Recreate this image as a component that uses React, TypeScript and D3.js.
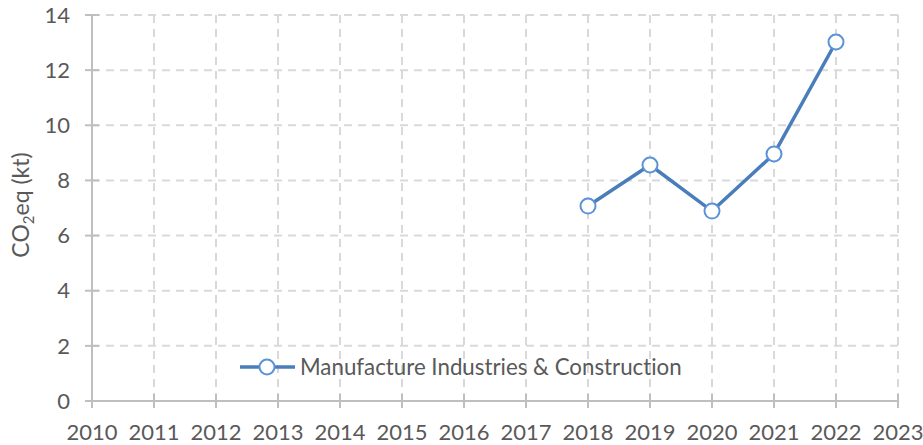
import React from "react";
import * as d3 from "d3";

const years = [2018, 2019, 2020, 2021, 2022];
const values = [7.07, 8.56, 6.89, 8.96, 13.02];
const xTicks = d3.range(2010, 2024);
const yTicks = [0, 2, 4, 6, 8, 10, 12, 14];
const seriesName = "Manufacture Industries & Construction";

export default function App() {
  const W = 923, H = 445;
  const x = d3.scaleLinear().domain([2010, 2023]).range([92, 898]);
  const y = d3.scaleLinear().domain([0, 14]).range([401, 15]);
  const line = d3.line<number>().x((d, i) => x(years[i])).y((d) => y(d));
  const font = "Lato, 'Open Sans', sans-serif";
  const grid = "#d9d9d9";
  const axis = "#bfbfbf";
  const txt = "#595959";
  const lineC = "#4a7ebb";
  const markC = "#5b93d6";
  return (
    <svg width={W} height={H} style={{ position: "absolute", left: 0, top: 0, fontVariantLigatures: "none" }}>
      <rect width={W} height={H} fill="#fff" />
      {yTicks.filter((t) => t > 0).map((t) => (
        <line key={"hy" + t} x1={x(2010)} x2={x(2023)} y1={y(t)} y2={y(t)} stroke={grid} strokeWidth={2} strokeDasharray="8,6" />
      ))}
      {xTicks.filter((t) => t > 2010).map((t) => (
        <line key={"vx" + t} x1={x(t)} x2={x(t)} y1={y(0)} y2={y(14)} stroke={grid} strokeWidth={2} strokeDasharray="8,6" />
      ))}
      <line x1={x(2010)} x2={x(2010)} y1={y(0)} y2={y(14)} stroke={axis} strokeWidth={2} />
      <line x1={x(2010)} x2={x(2023)} y1={y(0)} y2={y(0)} stroke={axis} strokeWidth={2} />
      {yTicks.map((t) => (
        <g key={"yt" + t}>
          <line x1={x(2010) - 7} x2={x(2010) + 7} y1={y(t)} y2={y(t)} stroke={axis} strokeWidth={2} />
          <text x={70} y={y(t)} dy="0.35em" textAnchor="end" fontFamily={font} fontSize={22} fill={txt}>{t}</text>
        </g>
      ))}
      {xTicks.map((t) => (
        <g key={"xt" + t}>
          <line x1={x(t)} x2={x(t)} y1={y(0) - 7} y2={y(0) + 7} stroke={axis} strokeWidth={2} />
          <text x={x(t)} y={440} textAnchor="middle" fontFamily={font} fontSize={22} fill={txt}>{t}</text>
        </g>
      ))}
      <text transform="translate(29,205) rotate(-90)" textAnchor="middle" fontFamily={font} fontSize={23} fill={txt}>
        CO<tspan fontSize={15} dy={5}>2</tspan><tspan dy={-5}>eq (kt)</tspan>
      </text>
      <path d={line(values) || ""} fill="none" stroke={lineC} strokeWidth={3.5} />
      {values.map((v, i) => (
        <circle key={i} cx={x(years[i])} cy={y(v)} r={7.5} fill="#fff" stroke={markC} strokeWidth={2} />
      ))}
      <line x1={240} x2={295} y1={367} y2={367} stroke={lineC} strokeWidth={3.5} />
      <circle cx={267} cy={367} r={7.5} fill="#fff" stroke={markC} strokeWidth={2} />
      <text x={300} y={375} fontFamily={font} fontSize={22.3} fill={txt} style={{ fontVariantLigatures: "none" }}>{seriesName}</text>
    </svg>
  );
}
